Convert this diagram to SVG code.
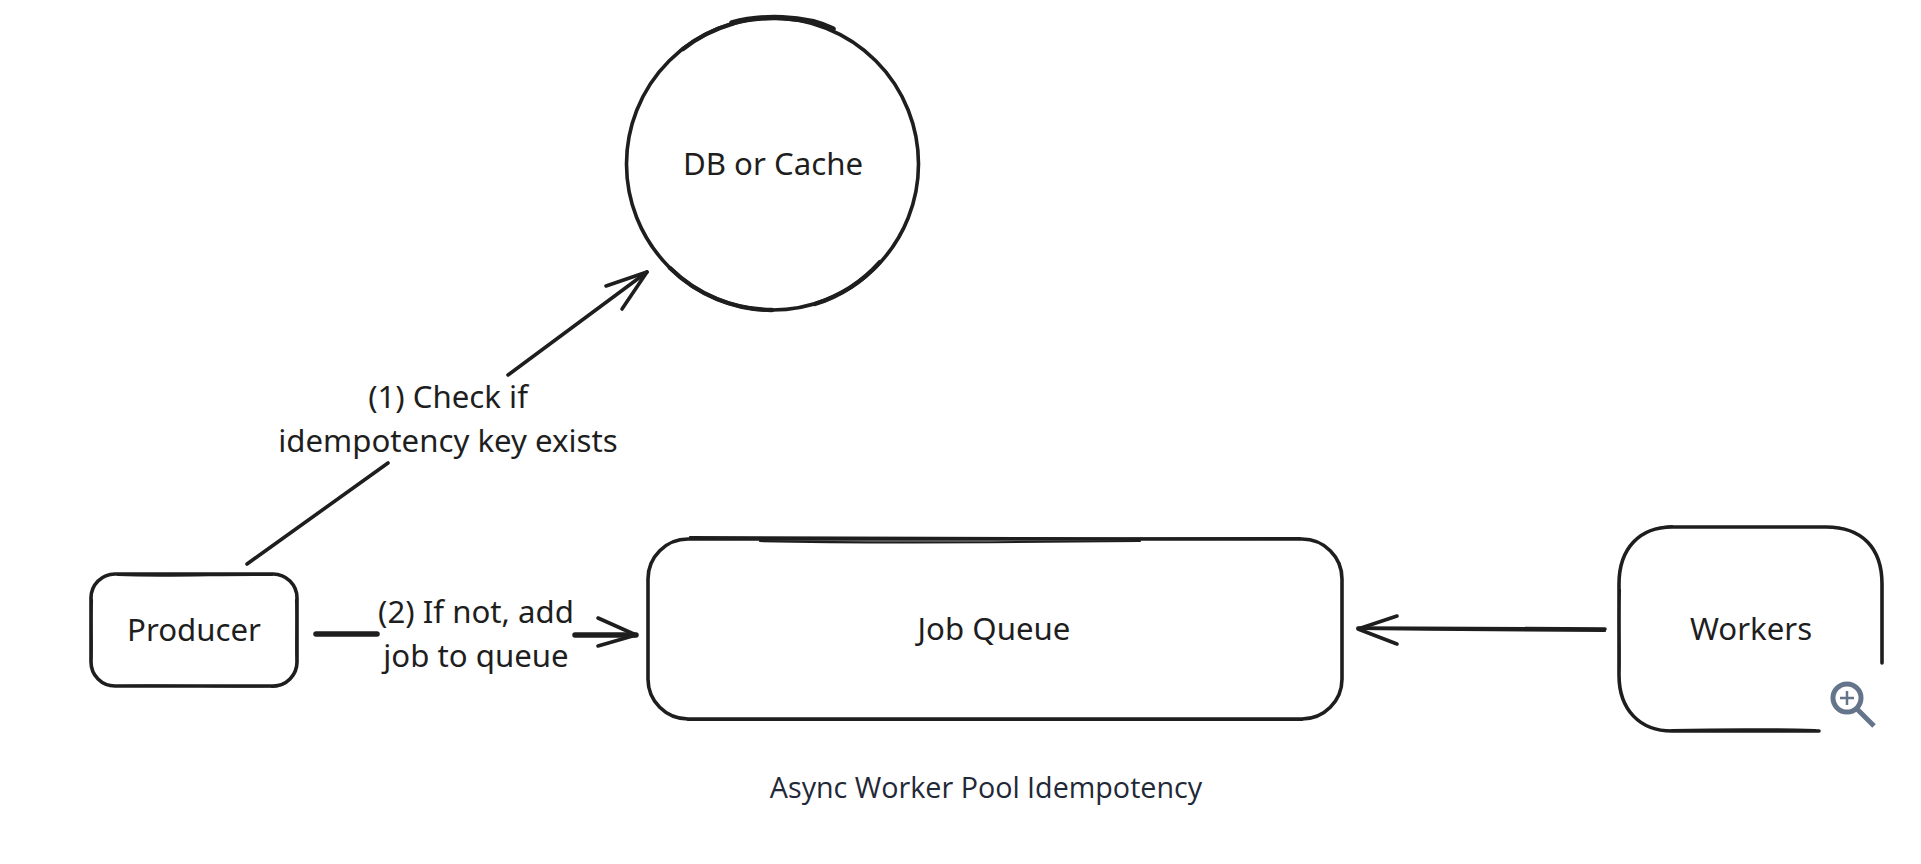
<svg xmlns="http://www.w3.org/2000/svg" width="1921" height="864" viewBox="0 0 1921 864">
  <style>
    .bg { fill: #ffffff; }
    .sk { fill: none; stroke: #1e1e1e; stroke-width: 3.6; stroke-linecap: round; stroke-linejoin: round; }
    .thin { stroke-width: 2.2; }
    .thick { stroke-width: 5.5; }
    .lbl { font-family: "Noto Sans", "Open Sans", sans-serif; font-size: 31.2px; fill: #1e1e1e; text-anchor: middle; }
    .cap { font-family: "Open Sans", "Noto Sans", sans-serif; font-size: 28.7px; fill: #1f2937; text-anchor: middle; }
    .ico { fill: none; stroke: #64748b; stroke-width: 5; }
  </style>
  <rect class="bg" x="0" y="0" width="1921" height="864"/>

  <g id="connectors">
    <g id="edge-producer-db">
      <path class="sk" d="M247 564 L388 463"/>
      <path class="sk" d="M508 375 L647 272"/>
      <path class="sk" d="M606 286 L647 272 L622 309"/>
      <text class="lbl" x="448" y="408">(1) Check if</text>
      <text class="lbl" x="448" y="452">idempotency key exists</text>
    </g>
    <g id="edge-producer-queue">
      <path class="sk thick" d="M316 634 L377 634"/>
      <path class="sk thick" d="M575 635 L636 635"/>
      <path class="sk" d="M598 618 L636 635 L598 646"/>
      <text class="lbl" x="476" y="623">(2) If not, add</text>
      <text class="lbl" x="476" y="667">job to queue</text>
    </g>
    <g id="edge-workers-queue">
      <path class="sk" d="M1605 629 L1358 628"/>
      <path class="sk thin" d="M1605 631 C1520 630 1440 630 1358 629"/>
      <path class="sk" d="M1397 616 L1358 629 L1397 644"/>
    </g>
  </g>

  <g id="node-db">
    <circle class="sk" cx="772.5" cy="164" r="146"/>
    <path class="sk thick" d="M732 23 C760 15 805 15 833 29"/>
    <path class="sk thick" d="M683 49 A146 146 0 0 1 732 24 M670 268 A146 146 0 0 0 772 310 M815 304 A146 146 0 0 0 880 262" style="stroke-width:4.4"/>
    <text class="lbl" x="773" y="175">DB or Cache</text>
  </g>

  <g id="node-producer">
    <rect class="sk" x="91" y="574" width="206" height="112" rx="24"/>
    <path class="sk thin" d="M118 575 C170 577 230 574 272 575 M92 600 C90 625 93 645 91 662 M296 600 C298 625 295 645 297 662 M116 686 C170 684 230 688 274 686 M272 687 C285 686 294 678 297 664"/>
    <text class="lbl" x="194" y="641">Producer</text>
  </g>

  <g id="node-queue">
    <rect class="sk" x="648" y="539" width="694" height="180" rx="40"/>
    <path class="sk thin" d="M690 537 C850 539 1090 539 1300 538 M760 541 C850 543 1040 542 1140 541 M688 720 C850 721 1140 719 1302 720"/>
    <text class="lbl" x="994" y="640">Job Queue</text>
  </g>

  <g id="node-workers">
    <path class="sk" d="M1672 527 L1826 527 C1862 527 1882 548 1882 584 L1882 663 M1819 731 L1672 731 C1640 731 1619 710 1619 675 L1619 584 C1619 548 1640 527 1672 527"/>
    <path class="sk thin" d="M1620 590 C1617 625 1621 650 1619 672 M1640 536 C1650 529 1660 527 1672 526 M1672 730 C1720 729 1770 729 1815 730"/>
    <text class="lbl" x="1751" y="640">Workers</text>
  </g>

  <g id="zoom-icon">
    <circle class="ico" cx="1847" cy="698" r="14"/>
    <path class="ico" d="M1857 709 L1874 726"/>
    <path class="ico" style="stroke-width:2.5" d="M1840 698 L1854 698 M1847 691 L1847 705"/>
  </g>

  <text id="caption" class="cap" x="986" y="798">Async Worker Pool Idempotency</text>
</svg>
